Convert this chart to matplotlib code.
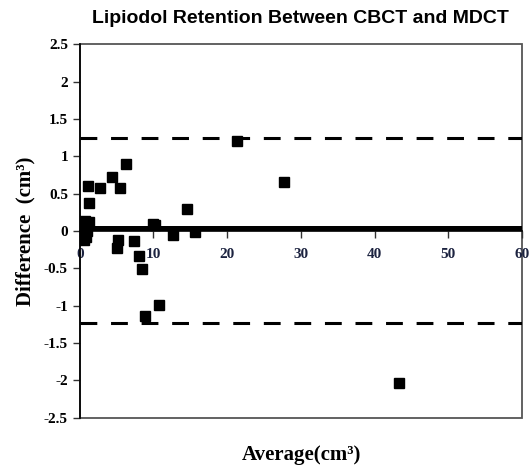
import matplotlib.pyplot as plt
from matplotlib.patches import Rectangle

# Bland-Altman data
average = [0.1, 0.2, 0.3, 0.3, 0.4, 0.5, 0.6, 0.7, 0.8, 1.0,
           1.1, 1.2, 1.3, 2.7, 4.4, 5.0, 5.2, 5.4, 6.3, 7.4,
           8.0, 8.4, 8.8, 9.9, 10.2, 10.8, 12.7, 14.6, 15.7, 21.3,
           27.7, 43.3]
difference = [0.05, -0.10, 0.02, 0.12, -0.05, 0.10, -0.12, 0.14, -0.08, 0.0,
              0.60, 0.38, 0.12, 0.57, 0.72, -0.23, -0.12, 0.57, 0.90, -0.13,
              -0.34, -0.51, -1.14, 0.10, 0.08, -0.99, -0.05, 0.29, -0.02, 1.21,
              0.65, -2.03]
mean_diff = 0.04
upper_loa = 1.25
lower_loa = -1.23

x_ticks = [0, 10, 20, 30, 40, 50, 60]
y_ticks = [-2.5, -2, -1.5, -1, -0.5, 0, 0.5, 1, 1.5, 2, 2.5]

serif = ['Liberation Serif', 'DejaVu Serif']
sans = ['Liberation Sans', 'DejaVu Sans']

fig = plt.figure(figsize=(5.32, 4.70), dpi=100)
ax = fig.add_axes([0.150, 0.111, 0.831, 0.795])

ax.plot(average, difference, 's', color='black', markersize=7, zorder=3)
ax.axhline(mean_diff, color='black', lw=3.6, zorder=2)
ax.axhline(upper_loa, color='black', lw=2.2, dashes=(5.5, 4.5), zorder=2)
ax.axhline(lower_loa, color='black', lw=2.2, dashes=(5.5, 4.5), zorder=2)

ax.set_xlim(0, 60)
ax.set_ylim(-2.5, 2.5)
ax.set_xticks(x_ticks)
ax.set_yticks(y_ticks)
ax.set_yticklabels([f'{v:g}' for v in y_ticks])

# x axis crosses at zero, plot area has its own frame
ax.spines['bottom'].set_position(('data', 0))
for s in ['top', 'right']:
    ax.spines[s].set_visible(False)
ax.spines['left'].set_linewidth(1.2)
ax.spines['bottom'].set_linewidth(1.2)
ax.add_patch(Rectangle((0, 0), 1, 1, transform=ax.transAxes, fill=False,
                       edgecolor='#555555', lw=1.3, clip_on=False, zorder=1))

ax.tick_params(axis='both', direction='out', length=5, width=1, color='#333333')
ax.tick_params(axis='x', pad=7)
for lab in ax.get_xticklabels():
    lab.set_fontfamily(serif)
    lab.set_fontweight('bold')
    lab.set_fontsize(11)
    lab.set_color('#1c2340')
for lab in ax.get_yticklabels():
    lab.set_fontfamily(serif)
    lab.set_fontweight('bold')
    lab.set_fontsize(11)

ax.set_title('Lipiodol Retention Between CBCT and MDCT', family=sans,
             fontweight='bold', fontsize=14, pad=15)
ax.set_ylabel('Difference  (cm³)', family=serif, fontweight='bold',
              fontsize=15, labelpad=6)
fig.text(0.566, 0.032, 'Average(cm³)', family=serif, fontweight='bold',
         fontsize=15, ha='center', va='center')

fig.savefig('out.png', dpi=100)
